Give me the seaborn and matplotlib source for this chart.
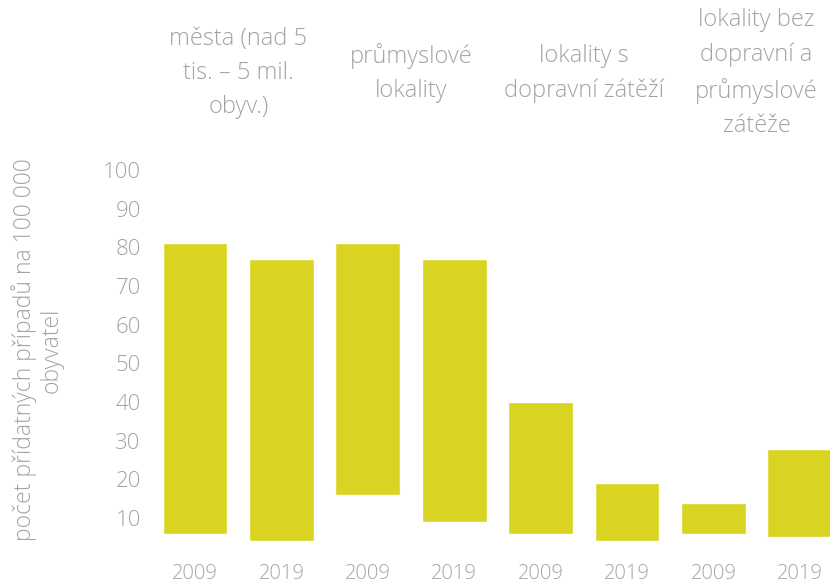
import numpy as np
import pandas as pd
import matplotlib.pyplot as plt
import seaborn as sns

# data (range bars: low .. high)
groups = ["města (nad 5\ntis. – 5 mil.\nobyv.)",
          "průmyslové\nlokality",
          "lokality s\ndopravní zátěží",
          "lokality bez\ndopravní a\nprůmyslové\nzátěže"]
years = ["2009", "2019"]
low = [6, 4, 16, 9, 6, 4, 6, 5]
high = [81, 77, 81, 77, 40, 19, 14, 28]

keys = [f"{g}|{y}" for g in range(len(groups)) for y in years]
df = pd.DataFrame({"key": keys, "low": low, "high": high})
df["span"] = df["high"] - df["low"]

sns.set_theme(style="white")
plt.rcParams["font.family"] = ["Open Sans", "DejaVu Sans"]
txt = "#a3a3a3"

fig = plt.figure(figsize=(8.3, 5.88), dpi=100)
ax = fig.add_axes([0.183, 0.053, 0.817, 0.658])

sns.barplot(data=df, x="key", y="span", bottom=df["low"].values,
            color="#d9d421", saturation=1, width=0.75, ax=ax)

ax.set_ylim(0, 100)
ax.set_xlim(-0.5, 7.35)
ax.set_yticks(range(10, 101, 10))
ax.set_xticks(range(len(keys)))
ax.set_xticklabels([k.split("|")[1] for k in keys])
ax.tick_params(axis="both", colors=txt, length=0)
ax.tick_params(axis="x", pad=5.5, labelsize=14.5)
ax.tick_params(axis="y", pad=8, labelsize=16)
for lab in ax.get_xticklabels() + ax.get_yticklabels():
    lab.set_fontweight("light")
sns.despine(ax=ax, left=True, bottom=True)
ax.set_xlabel("")
ax.set_ylabel("počet přídatných případů na 100 000\nobyvatel", color=txt,
              fontsize=16.5, fontweight="light", linespacing=1.15)
ax.yaxis.set_label_coords(-0.13, 0.535)

# group headers above the pairs of bars
for i, g in enumerate(groups):
    ax.text(2 * i + 0.5, 1.25, g, transform=ax.get_xaxis_transform(),
            ha="center", va="center", color=txt, fontsize=17,
            fontweight="light", linespacing=1.55, clip_on=False)

fig.savefig("out.png", dpi=100)
